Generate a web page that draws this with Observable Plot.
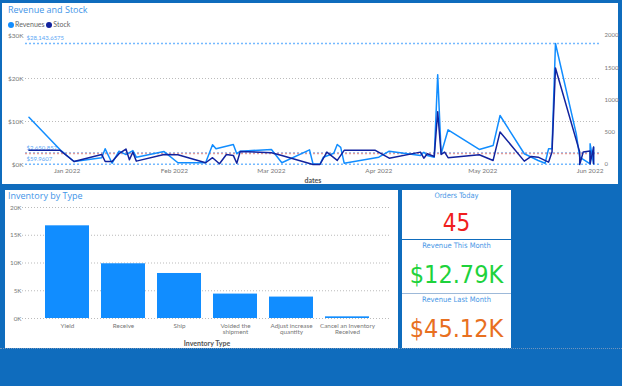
<!DOCTYPE html>
<html><head><meta charset="utf-8">
<script src="https://cdn.jsdelivr.net/npm/d3@7"></script>
<script src="https://cdn.jsdelivr.net/npm/@observablehq/plot@0.6"></script>
<style>
body{margin:0;width:622px;height:386px;background:#0F6CBD;position:relative;overflow:hidden;font-family:"Open Sans",sans-serif}
.panel{position:absolute;background:#fff}
.abs{position:absolute;white-space:nowrap}
.title{font-size:9px;color:#3F95E8;line-height:12px}
.legend{font-size:7px;color:#666;line-height:10px;font-family:Lato,sans-serif}
.legend span.dot{display:inline-block;width:6px;height:6px;border-radius:50%;margin-right:1px;vertical-align:-0.5px}
.card{position:absolute;left:402px;width:109px;background:#fff;text-align:center;font-family:"DejaVu Sans Condensed","DejaVu Sans",sans-serif}
.card .lab{font-size:7.5px;color:#4A98E6;line-height:10px;margin-top:1px}
.card .val{position:absolute;left:0;right:0;line-height:30px}
</style></head><body>
<div class="panel" style="left:2px;top:3px;width:616px;height:181px"></div>
<div class="abs title" style="left:8px;top:4px">Revenue and Stock</div>
<div class="abs legend" style="left:8px;top:19px"><span class="dot" style="background:#118DFF"></span>Revenues <span class="dot" style="background:#12239E"></span>Stock</div>
<div id="line" class="abs" style="left:3px;top:28px"></div>

<div class="panel" style="left:5px;top:190px;width:393px;height:158px"></div>
<div class="abs title" style="left:8px;top:190px">Inventory by Type</div>
<div id="bar" class="abs" style="left:5px;top:200px"></div>

<div id="cards"></div>
<div class="abs" style="left:0;top:348px;width:622px;border-top:1px dotted #6f94bd"></div>

<script>
// ---- Revenue and Stock (line chart) ----
const revDates = ["2021-12-21","2021-12-30","2022-01-03","2022-01-11","2022-01-12","2022-01-14","2022-01-16","2022-01-18","2022-01-20","2022-01-21","2022-01-29","2022-02-02","2022-02-10","2022-02-12","2022-02-13","2022-02-18","2022-02-19","2022-02-20","2022-03-01","2022-03-04","2022-03-12","2022-03-13","2022-03-15","2022-03-16","2022-03-19","2022-03-20","2022-03-21","2022-03-22","2022-04-01","2022-04-04","2022-04-13","2022-04-14","2022-04-15","2022-04-17","2022-04-18","2022-04-19","2022-04-21","2022-04-30","2022-05-04","2022-05-06","2022-05-13","2022-05-17","2022-05-19","2022-05-20","2022-05-21","2022-05-22","2022-05-28","2022-05-29","2022-06-01","2022-06-01","2022-06-02","2022-06-02"];
const revValues = [11000,3420,700,1560,3650,300,3100,2300,3250,1700,3000,400,400,4580,3650,4650,2500,3100,3500,400,3400,150,60,1700,2600,4650,4000,300,1700,3100,2100,2850,2100,1700,20900,2500,8070,3500,4400,11400,2500,930,300,3650,3650,28143.6575,7140,1700,160,4800,160,4000];
const stockDates = ["2021-12-21","2021-12-30","2022-01-03","2022-01-11","2022-01-12","2022-01-14","2022-01-16","2022-01-18","2022-01-19","2022-01-20","2022-01-21","2022-01-29","2022-02-02","2022-02-10","2022-02-12","2022-02-14","2022-02-16","2022-02-18","2022-02-19","2022-02-20","2022-03-01","2022-03-04","2022-03-13","2022-03-15","2022-03-17","2022-03-20","2022-03-22","2022-03-31","2022-04-04","2022-04-13","2022-04-14","2022-04-15","2022-04-17","2022-04-18","2022-04-19","2022-04-20","2022-04-21","2022-04-30","2022-05-04","2022-05-06","2022-05-13","2022-05-15","2022-05-17","2022-05-20","2022-05-21","2022-05-22","2022-05-29","2022-05-29","2022-05-30","2022-06-01","2022-06-01","2022-06-02","2022-06-02"];
const stockValues = [219,219,47,156,47,47,167,240,73,192,52,156,152,27,105,11,156,141,20,203,183,141,0,0,192,63,219,219,98,192,98,167,125,817,156,192,105,152,63,505,52,125,114,36,192,1496,192,0,192,208,11,270,11];
const revRefValues = [28143.6575, 2650.857, 59.9607]; // max, average, min
const stockAvg = 170;
const revTicks = [0, 10000, 20000, 30000];
const stockTicks = [0, 500, 1000, 1500, 2000];
const monthTicks = ["2022-01-01","2022-02-01","2022-03-01","2022-04-01","2022-05-01","2022-06-01"];

const revMax = 30000, stockMax = 2000, ratio = revMax / stockMax;
const rev = revDates.map((d, i) => ({date: new Date(d), value: revValues[i]}));
const stock = stockDates.map((d, i) => ({date: new Date(d), value: stockValues[i]}));
const xStart = new Date("2021-12-20"), xEnd = new Date("2022-06-04");

const lineChart = Plot.plot({
  width: 619, height: 155,
  marginLeft: 22, marginRight: 22, marginTop: 7, marginBottom: 19,
  style: {fontFamily: "Lato, sans-serif", fontSize: "6.5px", color: "#777", background: "transparent", overflow: "visible"},
  x: {type: "utc", domain: [xStart, xEnd]},
  y: {domain: [0, revMax]},
  marks: [
    Plot.gridY(revTicks.filter(v => v > 0 && v < revMax), {stroke: "#bbb", strokeOpacity: 1, strokeDasharray: "1,2"}),
    Plot.ruleY(revRefValues, {stroke: "#74B9FF", strokeWidth: 1.6, strokeDasharray: "2,2"}),
    Plot.ruleY([stockAvg * ratio], {stroke: "#E09A9A", strokeWidth: 1.6, strokeDasharray: "2,2"}),
    Plot.text(revRefValues, {x: xStart, y: d => d, text: d => "$" + d3.format(",")(d), textAnchor: "start", dx: 1, dy: -5, fill: "#5AA6F5", fontSize: 6}),
    Plot.line(rev, {x: "date", y: "value", stroke: "#118DFF", strokeWidth: 1.5, curve: "linear"}),
    Plot.line(stock, {x: "date", y: d => d.value * ratio, stroke: "#12239E", strokeWidth: 1.5, curve: "linear"}),
    Plot.axisY({anchor: "left", ticks: revTicks, tickFormat: d => "$" + d / 1000 + "K", tickSize: 0, tickPadding: 2, label: null}),
    Plot.axisY({anchor: "right", ticks: stockTicks.map(v => v * ratio), tickFormat: d => String(d / ratio), tickSize: 0, tickPadding: 4, fontSize: 6, label: null}),
    Plot.axisX({ticks: monthTicks.map(d => new Date(d)), tickFormat: d3.utcFormat("%b %Y"), tickSize: 0, tickPadding: 4, label: "dates", labelAnchor: "center", labelArrow: "none", labelOffset: 18})
  ]
});
document.getElementById("line").append(lineChart);

// ---- Inventory by Type (bar chart) ----
const invTypes = ["Yield","Receive","Ship","Voided the shipment","Adjust increase quantity","Cancel an Inventory Received"];
const invLabels = ["Yield","Receive","Ship","Voided the\nshipment","Adjust increase\nquantity","Cancel an Inventory\nReceived"];
const invValues = [16700, 9860, 8110, 4400, 3860, 300];
const invTicks = [0, 5000, 10000, 15000, 20000];
const inv = invTypes.map((t, i) => ({type: t, value: invValues[i]}));

const barChart = Plot.plot({
  width: 392, height: 148,
  marginLeft: 17, marginRight: 6, marginTop: 7, marginBottom: 30,
  style: {fontFamily: "Lato, sans-serif", fontSize: "6.3px", color: "#777", background: "transparent", overflow: "visible"},
  x: {domain: invTypes, paddingInner: 0.216, paddingOuter: 0.4},
  y: {domain: [0, 20000]},
  marks: [
    Plot.gridY(invTicks.filter(v => v > 0), {stroke: "#bbb", strokeOpacity: 1, strokeDasharray: "1,2"}),
    Plot.ruleY([0], {stroke: "#bbb", strokeDasharray: "1,2"}),
    Plot.barY(inv, {x: "type", y: "value", fill: "#118DFF"}),
    Plot.axisY({ticks: invTicks, tickFormat: d => d / 1000 + "K", tickSize: 0, tickPadding: 1, label: null}),
    Plot.axisX({tickFormat: d => invLabels[invTypes.indexOf(d)], tickSize: 0, tickPadding: 5, label: "Inventory Type", labelAnchor: "center", labelArrow: "none", labelOffset: 27})
  ]
});
document.getElementById("bar").append(barChart);

// bold axis titles only
[lineChart, barChart].forEach(svg => {
  svg.querySelectorAll("text").forEach(t => {
    if (t.textContent === "dates" || t.textContent === "Inventory Type") {
      t.setAttribute("font-weight", "bold");
      t.setAttribute("fill", "#555");
      t.setAttribute("font-size", "7");
    }
  });
});

// ---- KPI cards ----
const cardTitles = ["Orders Today", "Revenue This Month", "Revenue Last Month"];
const cardValues = ["45", "$12.79K", "$45.12K"];
const cardColors = ["#F01E1E", "#1ED23C", "#E8701F"];
const cardSizes = [24, 25, 25];
const cardBoxes = [[190, 49], [240, 53], [294, 54]];
const cards = document.getElementById("cards");
cardTitles.forEach((t, i) => {
  const c = document.createElement("div");
  c.className = "card";
  c.style.top = cardBoxes[i][0] + "px";
  c.style.height = cardBoxes[i][1] + "px";
  c.innerHTML = `<div class="lab">${t}</div><div class="val" style="top:${i === 0 ? 18 : 20}px;font-size:${cardSizes[i]}px;color:${cardColors[i]}">${cardValues[i]}</div>`;
  cards.append(c);
});
</script>
<div class="abs" style="left:402px;top:239px;width:109px;height:1px;background:#0F6CBD"></div>
<div class="abs" style="left:402px;top:293px;width:109px;height:1px;background:#9DB9D9"></div>
</body></html>
